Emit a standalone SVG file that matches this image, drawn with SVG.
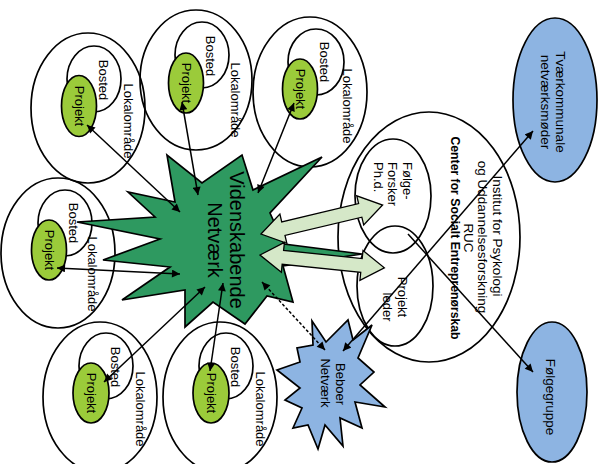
<svg xmlns="http://www.w3.org/2000/svg" width="602" height="464" viewBox="0 0 602 464">
<style>
.o{fill:none;stroke:#000;stroke-width:1.7}
.b{fill:none;stroke:#000;stroke-width:1.7}
.p{fill:#9BCB3A;stroke:#000;stroke-width:1.7}
.t{font-family:"Liberation Sans",Arial,sans-serif;font-size:13px;fill:#000;text-anchor:middle;dominant-baseline:central}
.ts{font-family:"Liberation Sans",Arial,sans-serif;font-size:13px;fill:#000;text-anchor:start;dominant-baseline:central}
.ti{font-family:"Liberation Sans",Arial,sans-serif;font-size:13.5px;fill:#000;text-anchor:middle;dominant-baseline:central}
.big{font-family:"Liberation Sans",Arial,sans-serif;font-size:20px;fill:#000;text-anchor:middle;dominant-baseline:central}
.c{fill:none;stroke:#000;stroke-width:1.5;marker-start:url(#ah);marker-end:url(#ah)}
.la{fill:#D5E8C8;stroke:#000;stroke-width:1.3;stroke-linejoin:miter}
.blue{fill:#8DB4E2;stroke:#000;stroke-width:1.7}
</style>
<defs>
<marker id="ah" viewBox="0 0 10 10" refX="10" refY="5" markerWidth="9" markerHeight="8" markerUnits="userSpaceOnUse" orient="auto-start-reverse"><path d="M0,0 L10,5 L0,10 z" fill="#000"/></marker>
</defs>
<rect width="602" height="464" fill="#fff"/>

<g id="group1">
<ellipse class="o" cx="88" cy="108" rx="57" ry="75"/>
<ellipse class="b" cx="94" cy="79" rx="27" ry="33"/>
<ellipse class="p" cx="79" cy="106" rx="17.5" ry="30.5"/>
<text class="t" transform="translate(79,106) rotate(90)">Projekt</text>
<text class="t" transform="translate(103,80) rotate(90)">Bosted</text>
<text class="t" transform="translate(128,121) rotate(90)">Lokalområde</text>
</g>
<g id="group2">
<ellipse class="o" cx="196" cy="80" rx="56" ry="70"/>
<ellipse class="b" cx="202" cy="55" rx="27" ry="33"/>
<ellipse class="p" cx="186" cy="83" rx="17.5" ry="30"/>
<text class="t" transform="translate(186,83) rotate(90)">Projekt</text>
<text class="t" transform="translate(210,56) rotate(90)">Bosted</text>
<text class="t" transform="translate(235,100) rotate(90)">Lokalområde</text>
</g>
<g id="group3">
<ellipse class="o" cx="310" cy="92" rx="57" ry="75"/>
<ellipse class="b" cx="316" cy="62" rx="28" ry="33"/>
<ellipse class="p" cx="300" cy="89" rx="17.5" ry="30"/>
<text class="t" transform="translate(300,89) rotate(90)">Projekt</text>
<text class="t" transform="translate(324,62) rotate(90)">Bosted</text>
<text class="t" transform="translate(347,106) rotate(90)">Lokalområde</text>
</g>
<g id="group4">
<ellipse class="o" cx="58" cy="253" rx="57" ry="75"/>
<ellipse class="b" cx="65" cy="223" rx="27" ry="33"/>
<ellipse class="p" cx="49" cy="250" rx="17.5" ry="30"/>
<text class="t" transform="translate(49,250) rotate(90)">Projekt</text>
<text class="t" transform="translate(73,223) rotate(90)">Bosted</text>
<text class="t" transform="translate(92,274) rotate(90)">Lokalområde</text>
</g>
<g id="group5">
<ellipse class="o" cx="100" cy="397" rx="57" ry="75"/>
<ellipse class="b" cx="106" cy="366" rx="27" ry="33"/>
<ellipse class="p" cx="91" cy="393" rx="18" ry="30"/>
<text class="t" transform="translate(91,393) rotate(90)">Projekt</text>
<text class="t" transform="translate(115,367) rotate(90)">Bosted</text>
<text class="t" transform="translate(140,409) rotate(90)">Lokalområde</text>
</g>
<g id="group6">
<ellipse class="o" cx="220" cy="397" rx="57" ry="75"/>
<ellipse class="b" cx="226" cy="366" rx="27" ry="33"/>
<ellipse class="p" cx="211" cy="393" rx="18" ry="30"/>
<text class="t" transform="translate(211,393) rotate(90)">Projekt</text>
<text class="t" transform="translate(235,367) rotate(90)">Bosted</text>
<text class="t" transform="translate(260,409) rotate(90)">Lokalområde</text>
</g>

<g id="institut">
<ellipse class="o" cx="429" cy="237" rx="91" ry="125"/>
<text class="ti" transform="translate(497,236) rotate(90)">Institut for Psykologi</text>
<text class="ti" transform="translate(482,237) rotate(90)">og Uddannelsesforskning</text>
<text class="ti" transform="translate(468,238) rotate(90)">RUC</text>
<text class="ti" transform="translate(455,238) rotate(90)" font-weight="bold" textLength="203" lengthAdjust="spacingAndGlyphs">Center for Socialt Entreprenørskab</text>
</g>
<g id="foelgeforsker">
<ellipse class="o" cx="393" cy="196" rx="38" ry="57"/>
<text class="ts" transform="translate(407,162) rotate(90)">Følge-</text>
<text class="ts" transform="translate(392,162) rotate(90)">Forsker</text>
<text class="ts" transform="translate(378,162) rotate(90)">Ph.d.</text>
</g>
<g id="projektleder">
<ellipse class="o" cx="395" cy="286" rx="38" ry="60"/>
<text class="t" transform="translate(402,297) rotate(90)">Projekt</text>
<text class="t" transform="translate(387,307) rotate(90)">leder</text>
</g>

<g id="videnskabende">
<path d="M77,222 L155,217 L128,192 L175,202 L167,155 L202,183 L242,155 L253,190 L322,157 L270,213 L284,244 L362,254 L283,266 L293,302 L267,296 L245,324 L213,302 L185,327 L185,290 L122,300 L170,267 L103,260 L160,239 Z" fill="#2E9960" stroke="#000" stroke-width="1.7" stroke-linejoin="miter"/>
<text class="big" transform="translate(237,240) rotate(90)">Videnskabende</text>
<text class="big" transform="translate(215,240) rotate(90)">Netværk</text>
</g>

<g id="tvaerkommunale">
<ellipse class="blue" cx="555" cy="100" rx="42" ry="82"/>
<text class="ti" transform="translate(560,102) rotate(90)">Tværkommunale</text>
<text class="ti" transform="translate(545,102) rotate(90)">netværksmøder</text>
</g>
<g id="foelgegruppe">
<ellipse class="blue" cx="552" cy="392" rx="35" ry="70"/>
<text class="ti" transform="translate(550,397) rotate(90)">Følgegruppe</text>
</g>

<g id="beboer">
<path d="M312,321 L326,342 L348,320 L353,340 L372,325 L358,358 L374,372 L360,385 L385,407 L355,402 L362,428 L340,418 L343,446 L325,425 L318,449 L308,425 L293,428 L302,408 L285,400 L300,388 L277,370 L300,362 L297,348 L313,345 Z" fill="#8DB4E2" stroke="#000" stroke-width="1.7"/>
<text class="t" transform="translate(340,384) rotate(90)">Beboer</text>
<text class="t" transform="translate(325,383) rotate(90)">Netværk</text>
</g>

<g id="connectors">
<polygon class="la" transform="translate(261,234) rotate(-13.4)" points="0,0 23,-15 23,-7 102,-7 102,-15 125,0 102,15 102,7 23,7 23,15"/>
<polygon class="la" transform="translate(260,255) rotate(5.9)" points="0,0 23,-15 23,-7 102,-7 102,-15 125,0 102,15 102,7 23,7 23,15"/>
<line class="c" x1="87" y1="125" x2="180" y2="212"/>
<line class="c" x1="182" y1="102" x2="198" y2="195"/>
<line class="c" x1="294" y1="103" x2="258" y2="193"/>
<line class="c" x1="57" y1="268" x2="180" y2="274"/>
<line class="c" x1="104" y1="382" x2="205" y2="287"/>
<line class="c" x1="210" y1="371" x2="223" y2="283"/>
<line class="c" x1="262" y1="282" x2="325" y2="350" stroke-dasharray="3,2"/>
<line class="c" x1="533" y1="131" x2="343" y2="351"/>
<line x1="408" y1="234" x2="533" y2="372" fill="none" stroke="#000" stroke-width="1.5" marker-end="url(#ah)"/>
</g>
</svg>
